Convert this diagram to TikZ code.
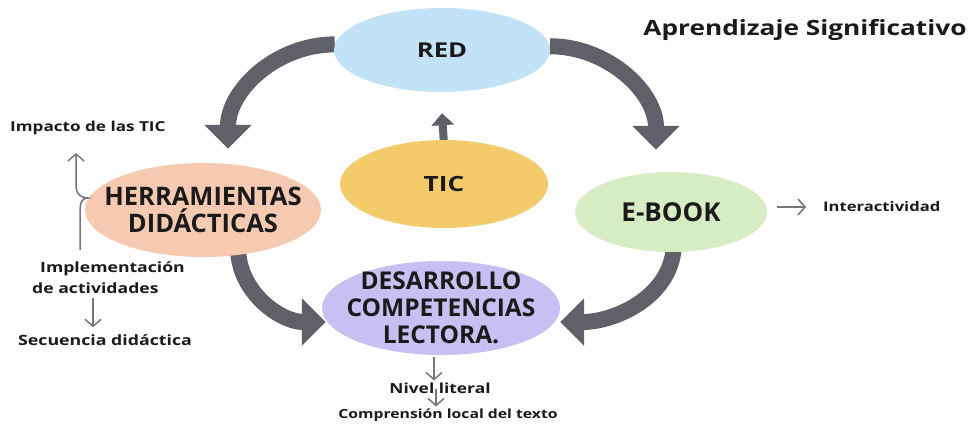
\documentclass[tikz,border=0pt]{standalone}
\usepackage{fontspec}
\setmainfont{Open Sans}
\newfontfamily\widesans[FakeStretch=1.25]{Open Sans}
\usetikzlibrary{shapes.geometric, arrows.meta, backgrounds}
\definecolor{red-blue}{HTML}{C2E2F7}
\definecolor{tic-gold}{HTML}{F3CB6B}
\definecolor{herr-peach}{HTML}{F6CAB1}
\definecolor{ebook-green}{HTML}{D7ECC3}
\definecolor{desa-lilac}{HTML}{C8C0F2}
\definecolor{arrow-gray}{HTML}{5F6068}
\definecolor{thin-gray}{HTML}{75757C}
\definecolor{ink}{HTML}{1A1A1A}

\begin{document}
\begin{tikzpicture}[x=1pt,y=-1pt,
 bubble/.style={ellipse, inner sep=0pt, draw=none},
 bubtext/.style={font=\bfseries\fontsize{26}{27}\selectfont, text=ink, align=center},
 note/.style={font=\widesans\bfseries\fontsize{#1}{21}\selectfont, text=ink, align=center, inner sep=1pt},
 note/.default=14,
 bigarrow/.style={draw=arrow-gray, line width=16pt, -{Triangle[length=24pt,width=46pt]}},
 uparrow/.style={draw=arrow-gray, line width=8pt, -{Triangle[length=12pt,width=22pt]}},
 thinarrow/.style={draw=thin-gray, line width=1.5pt, -{Straight Barb[length=7pt,width=16pt]}}]
 \useasboundingbox (0,0) rectangle (974,431);
 %ellipses
 \node[bubble, minimum width=216pt, minimum height=84pt, fill=red-blue,
   label={[bubtext, font=\widesans\bfseries\fontsize{20.5}{24}\selectfont]center:RED}] (red) at (442,50) {};
 \node[bubble, minimum width=208pt, minimum height=88pt, fill=tic-gold,
   label={[bubtext, font=\widesans\bfseries\fontsize{21}{24}\selectfont]center:TIC}] (tic) at (444,184) {};
 \node[bubble, minimum width=236pt, minimum height=94pt, fill=herr-peach,
   label={[bubtext, font=\bfseries\fontsize{25.5}{27}\selectfont]center:HERRAMIENTAS\\DIDÁCTICAS}] (herr) at (203,210) {};
 \node[bubble, minimum width=192pt, minimum height=80pt, fill=ebook-green,
   label={[bubtext]center:E-BOOK}] (ebook) at (671,212) {};
 \node[bubble, minimum width=238pt, minimum height=94pt, fill=desa-lilac,
   label={[bubtext, font=\bfseries\fontsize{24.5}{27}\selectfont]center:DESARROLLO\\COMPETENCIAS\\LECTORA.}] (desa) at (441,308) {};
 %texts
 \node[font=\widesans\bfseries\fontsize{21}{24}\selectfont, text=ink] (title) at (805,30) {Aprendizaje Significativo};
 \node[note=13.7, anchor=west] (impacto) at (9,128) {Impacto de las TIC};
 \node[note=14.1, align=left, anchor=west] (impl) at (31,278) {\hspace*{8pt}Implementación\\de actividades};
 \node[note=14.2] (secu) at (105,340) {Secuencia didáctica};
 \node[note=13.3, anchor=west] (interact) at (822,207) {Interactividad};
 \node[note=13.9] (nivel) at (440,388) {Nivel literal};
 \node[note=12.6] (compr) at (448,415) {Comprensión local del texto};
 \coordinate (brace-top) at (76,153);
 \coordinate (brace-tip) at (88,198);
 \coordinate (brace-bot) at (80,250);
 %thin arrows
 \draw[thinarrow, {Straight Barb[length=7pt,width=16pt]}-] (brace-top) -- (76,185)
   .. controls (76,195) and (82,198) .. (brace-tip)
   .. controls (82,198) and (80,202) .. (80,212) -- (brace-bot);
 \draw[thinarrow] ([xshift=-12pt,yshift=-3pt]secu.north |- impl.south) -- ([xshift=-12pt,yshift=6pt]secu.north);
 \draw[thinarrow] ([xshift=-7pt,yshift=-2pt]desa.south) -- ([xshift=-6pt,yshift=1pt]nivel.north);
 \draw[thinarrow] ([xshift=-4pt,yshift=6pt]nivel.south) -- ([xshift=-12pt,yshift=1pt]compr.north);
 \draw[thinarrow] ([xshift=10pt]interact.west -| ebook.east) -- ([xshift=-16pt]interact.west);
 %big arrows
 \begin{pgfonlayer}{background}
  \fill[white] (0,0) rectangle (974,431);
  \draw[bigarrow] (red.177) to[out=180,in=90] ([xshift=25pt,yshift=14pt]herr.north);
  \draw[bigarrow] (red.2) to[out=0,in=90] ([xshift=-15pt,yshift=22pt]ebook.north);
  \draw[bigarrow] ([xshift=35pt,yshift=10pt]herr.south) to[out=-90,in=180] ([xshift=4pt,yshift=-14pt]desa.west);
  \draw[bigarrow] ([xshift=3pt,yshift=10pt]ebook.south) to[out=-90,in=0] ([yshift=-14pt]desa.east);
  \draw[uparrow] ([yshift=-5pt]tic.north) -- ([yshift=-21pt]red.south);
 \end{pgfonlayer}
\end{tikzpicture}
\end{document}
